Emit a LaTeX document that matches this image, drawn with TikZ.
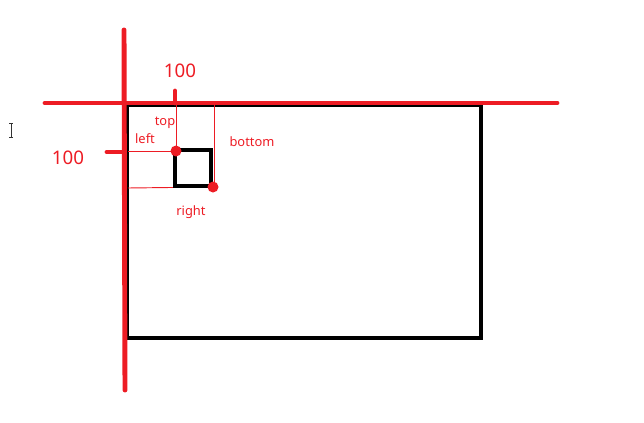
\documentclass[tikz,border=0pt]{standalone}
\usepackage{fontspec}
\setsansfont{Noto Sans}
\usetikzlibrary{positioning}
\definecolor{axisred}{HTML}{ED1C24}
\tikzset{
  axisline/.style={draw=axisred, line width=4.2pt, line cap=round},
  boxline/.style={draw=black, line width=3.8pt},
  guideline/.style={draw=axisred, line width=0.8pt},
  marklabel/.style={text=axisred, font=\sffamily\fontsize{11}{13}\selectfont, inner sep=1pt},
  bignum/.style={text=axisred, font=\sffamily\fontsize{16}{18}\selectfont, inner sep=1pt},
  cornerdot/.style={fill=axisred},
}
\begin{document}
\begin{tikzpicture}[x=0.03cm, y=-0.03cm]
  \useasboundingbox (0,0) rectangle (644,423);
  % outer box
  \draw[boxline] (127,105) rectangle (481,338);
  % axes
  \coordinate (yTop) at (124,30);
  \coordinate (yBot) at (125,390);
  \coordinate (xLeft) at (45,103);
  \coordinate (xRight) at (557,103);
  \draw[axisline] (yTop) -- (yBot);
  \draw[axisline] (xLeft) -- (xRight);
  % ticks
  \draw[axisline] (175,91) -- (175,103);
  \draw[axisline] (107,152) -- (124,152);
  \node (numTop) [bignum] at (180,71) {100};
  \node (numLeft) [bignum] at (68,158) {100};
  % guides
  \coordinate (tl) at (176,151);
  \coordinate (br) at (213,187);
  \draw[guideline] (176,104) -- (tl);
  \draw[guideline] (214,104) -- (214,188);
  \draw[guideline] (128,151) -- (tl);
  \draw[guideline] (128,188) -- (br);
  % small box
  \draw[boxline] (175,150) rectangle (211,186);
  \fill[cornerdot] (tl) circle (5.5);
  \fill[cornerdot] (br) circle (5.5);
  % labels
  \node (lblTop) [marklabel] at (165,123) {top};
  \node (lblLeft) [marklabel] at (145,139) {left};
  \node (lblBottom) [marklabel] at (252,142) {bottom};
  \node (lblRight) [marklabel] at (191,212) {right};
  % text cursor
  \draw[black!80, line width=0.6pt] (11,123) -- (11,137)
    (9,123) -- (13,123) (9,137) -- (13,137);
\end{tikzpicture}
\end{document}
